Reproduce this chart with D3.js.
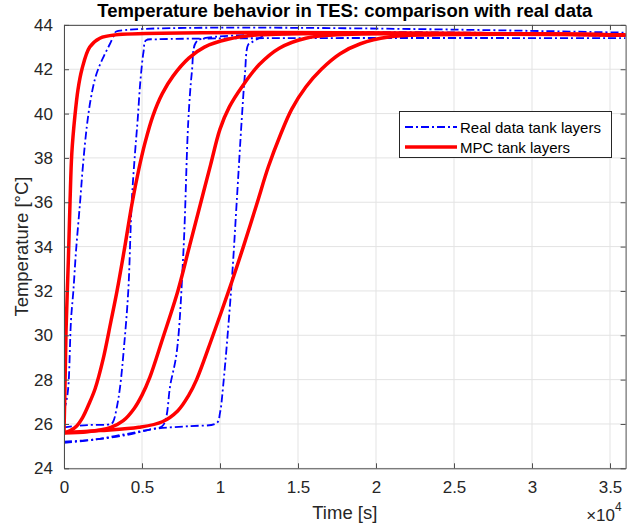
<!DOCTYPE html>
<html>
<head>
<meta charset="utf-8">
<script src="https://cdn.jsdelivr.net/npm/d3@7"></script>
<style>
  html, body { margin: 0; padding: 0; background: #ffffff; }
  svg { display: block; font-family: "Liberation Sans", Arial, Helvetica, sans-serif; }
</style>
</head>
<body>
<div id="chart"></div>
<script>
// ---------- DATA ----------
const chartTitle = "Temperature behavior in TES: comparison with real data";
const xLabel = "Time [s]";
const yLabel = "Temperature [°C]";
const xExponentBase = "×10";
const xExponent = "4";
const xTicks = [0, 5000, 10000, 15000, 20000, 25000, 30000, 35000];
const xTickLabels = ["0", "0.5", "1", "1.5", "2", "2.5", "3", "3.5"];
const yTicks = [24, 26, 28, 30, 32, 34, 36, 38, 40, 42, 44];
const xDomain = [0, 36000];
const yDomain = [24, 44];
const legendLabels = ["Real data tank layers", "MPC tank layers"];

// Real data (measured) tank layers: [time s, temperature °C]
const realLayer1 = [[0,26.6],[170,27.1],[280,27.7],[450,30.7],[600,32.0],[770,33.8],[1030,36.0],[1220,37.7],[1460,39.4],[1700,40.6],[2000,41.6],[2300,42.2],[2630,42.7],[2950,43.15],[3250,43.6],[3350,43.7],[36000,43.65]];
const realLayer2 = [[0,25.85],[1500,25.95],[3000,26.0],[3150,26.1],[3400,26.8],[3600,27.7],[3850,29.5],[4120,32.0],[4340,36.0],[4550,38.2],[4720,39.7],[4900,41.5],[5100,42.8],[5250,43.3],[6000,43.35],[36000,43.4]];
const realLayer3 = [[0,25.2],[2000,25.3],[4000,25.5],[5500,25.75],[6300,25.9],[6550,26.3],[6800,27.7],[7220,29.2],[7650,33.7],[7970,39.7],[8200,41.9],[8450,43.2],[9000,43.4],[36000,43.5]];
const realLayer4 = [[0,25.15],[2000,25.3],[4000,25.55],[6000,25.8],[8000,25.9],[9800,26.05],[10000,26.5],[10200,27.7],[10750,32.4],[11070,36.0],[11390,39.7],[11600,41.8],[11800,43.1],[12000,43.2],[12500,43.4],[13000,43.55],[36000,43.55]];

// MPC model tank layers: [time s, temperature °C]
const mpcLayer1 = [[0,25.6],[60,27.6],[130,30.2],[280,33.4],[390,36.1],[500,38.2],[700,39.9],[900,41.1],[1150,42.0],[1650,43.0],[2300,43.4],[3300,43.55],[36000,43.55]];
const mpcLayer2 = [[0,25.6],[400,25.7],[800,25.9],[1200,26.3],[1600,26.9],[2000,27.6],[2500,28.9],[3000,30.6],[3400,32.0],[3900,34.0],[4350,35.9],[4800,37.5],[5200,38.7],[5700,39.9],[6300,40.9],[7000,41.7],[8000,42.5],[9000,43.0],[10500,43.35],[12500,43.55],[36000,43.55]];
const mpcLayer3 = [[0,25.6],[1500,25.65],[3000,25.85],[3800,26.15],[4500,26.7],[5000,27.3],[5500,28.1],[6300,29.8],[7300,32.0],[8000,33.9],[8700,35.8],[9400,37.7],[10000,39.3],[10600,40.3],[11400,41.2],[12500,42.2],[13800,42.95],[15500,43.4],[17500,43.55],[36000,43.55]];
const mpcLayer4 = [[0,25.6],[2300,25.7],[4800,25.85],[6300,26.1],[7300,26.6],[8000,27.3],[8500,28.0],[9500,29.9],[10750,32.4],[11500,34.0],[12350,35.9],[13100,37.6],[13850,39.0],[14600,40.2],[15500,41.2],[16500,42.0],[17700,42.7],[19000,43.15],[20800,43.45],[23500,43.55],[36000,43.55]];

const realLayers = [realLayer1, realLayer2, realLayer3, realLayer4];
const mpcLayers = [mpcLayer1, mpcLayer2, mpcLayer3, mpcLayer4];

// ---------- LAYOUT ----------
const W = 627, H = 531;
const plot = { left: 64, right: 625.6, top: 24.9, bottom: 468.3 };
const textColor = "#262626";
const blue = "#0000ff", red = "#ff0000";

const svg = d3.select("#chart").append("svg")
  .attr("width", W).attr("height", H)
  .attr("viewBox", `0 0 ${W} ${H}`);

svg.append("rect").attr("width", W).attr("height", H).attr("fill", "#fff");

const x = d3.scaleLinear().domain(xDomain).range([plot.left, plot.right]);
const y = d3.scaleLinear().domain(yDomain).range([plot.bottom, plot.top]);

// grid
const grid = svg.append("g").attr("class", "grid");
grid.selectAll("line.gx").data(xTicks).join("line")
  .attr("x1", d => x(d)).attr("x2", d => x(d))
  .attr("y1", plot.top).attr("y2", plot.bottom)
  .attr("stroke", "#e3e3e3").attr("stroke-width", 1);
grid.selectAll("line.gy").data(yTicks).join("line")
  .attr("y1", d => y(d)).attr("y2", d => y(d))
  .attr("x1", plot.left).attr("x2", plot.right)
  .attr("stroke", "#e3e3e3").attr("stroke-width", 1);

// clip
svg.append("clipPath").attr("id", "clip").append("rect")
  .attr("x", plot.left).attr("y", plot.top)
  .attr("width", plot.right - plot.left).attr("height", plot.bottom - plot.top);

const line = d3.line().x(d => x(d[0])).y(d => y(d[1])).curve(d3.curveCatmullRom.alpha(0.5));

const curves = svg.append("g").attr("clip-path", "url(#clip)");
curves.selectAll("path.real").data(realLayers).join("path")
  .attr("class", "real")
  .attr("d", line)
  .attr("fill", "none").attr("stroke", blue).attr("stroke-width", 1.8)
  .attr("stroke-dasharray", "8,3,2,3");
curves.selectAll("path.mpc").data(mpcLayers).join("path")
  .attr("class", "mpc")
  .attr("d", line)
  .attr("fill", "none").attr("stroke", red).attr("stroke-width", 3.5)
  .attr("stroke-linejoin", "round");

// axes
const axisColor = "#4d4d4d";
const fmtX = d => xTickLabels[xTicks.indexOf(d)];
const xAxis = svg.append("g").attr("transform", `translate(0,${plot.bottom})`)
  .call(d3.axisBottom(x).tickValues(xTicks).tickFormat(fmtX).tickSizeInner(-5).tickSizeOuter(0).tickPadding(13));
const yAxis = svg.append("g").attr("transform", `translate(${plot.left},0)`)
  .call(d3.axisLeft(y).tickValues(yTicks).tickFormat(d3.format("d")).tickSizeInner(-5).tickSizeOuter(0).tickPadding(11));
const xTop = svg.append("g").attr("transform", `translate(0,${plot.top})`)
  .call(d3.axisTop(x).tickValues(xTicks).tickFormat("").tickSizeInner(-5).tickSizeOuter(0));
const yRight = svg.append("g").attr("transform", `translate(${plot.right},0)`)
  .call(d3.axisRight(y).tickValues(yTicks).tickFormat("").tickSizeInner(-5).tickSizeOuter(0));

[xAxis, yAxis, xTop, yRight].forEach(g => {
  g.selectAll("path.domain").attr("stroke", axisColor).attr("stroke-width", 1);
  g.selectAll(".tick line").attr("stroke", axisColor).attr("stroke-width", 1);
  g.selectAll("text").attr("fill", textColor).attr("font-size", 17)
    .attr("font-family", "'Liberation Sans', Arial, Helvetica, sans-serif");
});

// exponent label
svg.append("text").attr("x", 615).attr("y", 521)
  .attr("text-anchor", "end").attr("fill", textColor).attr("font-size", 17)
  .text(xExponentBase);
svg.append("text").attr("x", 615).attr("y", 511).attr("fill", textColor)
  .attr("font-size", 12).text(xExponent);

// axis labels
svg.append("text").attr("x", (plot.left + plot.right) / 2).attr("y", 519)
  .attr("text-anchor", "middle").attr("fill", textColor).attr("font-size", 18.5).text(xLabel);
svg.append("text")
  .attr("transform", `translate(28,${(plot.top + plot.bottom) / 2}) rotate(-90)`)
  .attr("text-anchor", "middle").attr("fill", textColor).attr("font-size", 18.5).text(yLabel);

// title
svg.append("text").attr("x", (plot.left + plot.right) / 2).attr("y", 17)
  .attr("text-anchor", "middle").attr("fill", "#000").attr("font-size", 18.5)
  .attr("font-weight", "bold").text(chartTitle);

// legend
const lg = svg.append("g");
lg.append("rect").attr("x", 399.5).attr("y", 111.5).attr("width", 212).attr("height", 46)
  .attr("fill", "#fff").attr("stroke", "#262626").attr("stroke-width", 1);
const legendStyles = [
  { stroke: blue, width: 1.8, dash: "8,3,2,3" },
  { stroke: red, width: 3.5, dash: null }
];
legendLabels.forEach((lab, i) => {
  const yy = 127 + i * 20;
  lg.append("line").attr("x1", 405).attr("x2", 457).attr("y1", yy).attr("y2", yy)
    .attr("stroke", legendStyles[i].stroke).attr("stroke-width", legendStyles[i].width)
    .attr("stroke-dasharray", legendStyles[i].dash);
  lg.append("text").attr("x", 460).attr("y", yy + 5.5).attr("fill", "#000")
    .attr("font-size", 15).text(lab);
});
</script>
</body>
</html>
